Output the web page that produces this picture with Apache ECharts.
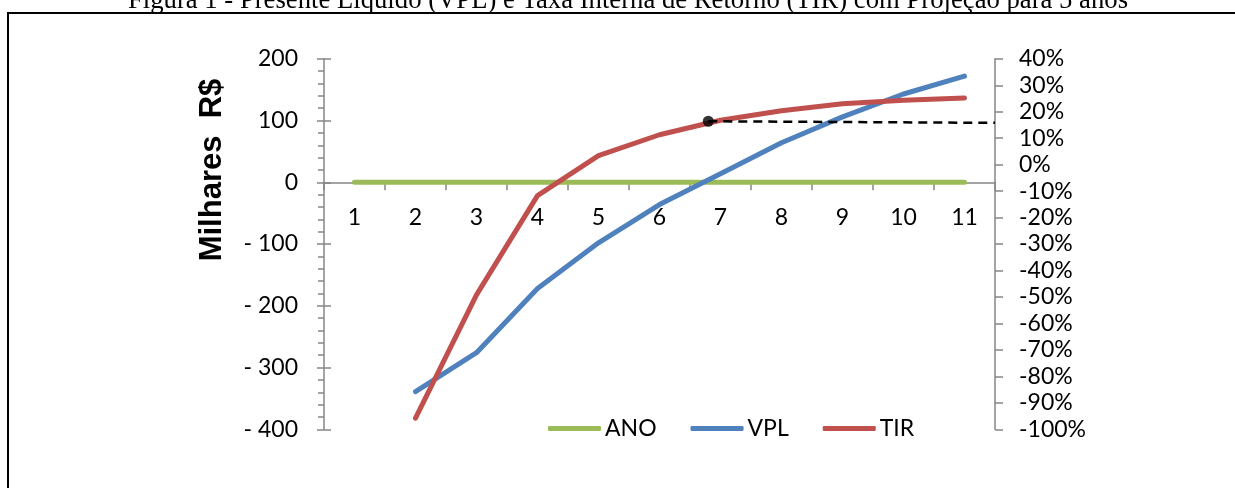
<!DOCTYPE html>
<html>
<head>
<meta charset="utf-8">
<script src="https://cdn.jsdelivr.net/npm/echarts@6/dist/echarts.min.js"></script>
<style>
html,body{margin:0;padding:0;background:#fff;}
#chart{width:1235px;height:488px;}
</style>
</head>
<body>
<div id="chart"></div>
<script>
// ---- data ----
const categories = ['1','2','3','4','5','6','7','8','9','10','11'];
const anoValues = [0,0,0,0,0,0,0,0,0,0,0];
const vplValues = [null,-339,-276,-172,-98,-36,14,64,106,143,172];          // Milhares R$
const tirValues = [null,-95.8,-49.2,-11.7,3.4,11.3,16.8,20.4,23.0,24.3,25.2]; // %
const tirPoint = [[6.8,16.4]];                 // highlighted point (year position, %)
const tirDashed = [[6.8,16.4],[11.5,15.8]];    // dashed reference line
const leftAxisRange = [-400,200,100];
const rightAxisRange = [-100,40,10];
const titleText = 'Figura 1 - Presente Líquido (VPL) e Taxa Interna de Retorno (TIR) com Projeção para 5 anos';
const yAxisTitle = 'Milhares  R$';

const labelFont = 'Lato';
const labelSize = 23;
const axisGray = '#868686';

const chart = echarts.init(document.getElementById('chart'));
chart.setOption({
  animation:false,
  backgroundColor:'#fff',
  grid:{left:324,right:240,top:58.8,bottom:58.7,containLabel:false},
  graphic:[
    {type:'rect',shape:{x:8,y:13,width:1400,height:700},style:{fill:'none',stroke:'#000',lineWidth:2},z:-1},
    {type:'text',x:628,y:1,style:{text:titleText,font:'26.7px "Liberation Serif"',fill:'#000',textAlign:'center',textVerticalAlign:'middle'}},
    {type:'text',x:212,y:170,rotation:Math.PI/2,style:{text:yAxisTitle,font:'bold 31px "Liberation Sans"',fill:'#000',textAlign:'center',textVerticalAlign:'middle'}}
  ],
  legend:{
    data:['ANO','VPL','TIR'],
    left:543, top:412,
    icon:'roundRect', itemWidth:53, itemHeight:5, itemGap:34,
    textStyle:{fontFamily:labelFont,fontSize:labelSize,color:'#000',padding:[0,0,0,-1]}
  },
  xAxis:[
    {type:'category',data:categories,boundaryGap:true,offset:0,
     axisLine:{onZero:false,lineStyle:{color:axisGray,width:1.5}},
     axisTick:{show:true,length:8,lineStyle:{color:axisGray,width:1.5}},
     axisLabel:{margin:24,fontFamily:labelFont,fontSize:labelSize,color:'#000'},
     splitLine:{show:false}},
    {type:'value',min:0.5,max:11.5,show:false}
  ],
  yAxis:[
    {type:'value',position:'left',min:leftAxisRange[0],max:leftAxisRange[1],interval:leftAxisRange[2],
     axisLine:{show:true,onZero:false,lineStyle:{color:axisGray,width:1.5}},
     axisTick:{show:true,length:7,lineStyle:{color:axisGray,width:1.5}},
     minorTick:{show:true,splitNumber:5,length:6,lineStyle:{color:axisGray,width:1.5}},
     axisLabel:{margin:26,fontFamily:labelFont,fontSize:labelSize,color:'#000',
       formatter:v=>v<0?'- '+Math.abs(v):String(v)},
     splitLine:{show:false}},
    {type:'value',position:'right',min:rightAxisRange[0],max:rightAxisRange[1],interval:rightAxisRange[2],
     axisLine:{show:true,onZero:false,lineStyle:{color:axisGray,width:1.5}},
     axisTick:{show:true,length:8,lineStyle:{color:axisGray,width:1.5}},
     axisLabel:{margin:24,fontFamily:labelFont,fontSize:labelSize,color:'#000',formatter:v=>v+'%'},
     splitLine:{show:false}},
    {type:'value',position:'left',min:leftAxisRange[0],max:leftAxisRange[1],interval:leftAxisRange[2],
     axisLine:{show:false,onZero:false},axisLabel:{show:false},splitLine:{show:false},
     axisTick:{show:true,inside:true,length:7,lineStyle:{color:axisGray,width:1.5}}}
  ],
  series:[
    {name:'ANO',type:'line',data:anoValues,yAxisIndex:0,symbol:'none',
     lineStyle:{color:'#9BBB59',width:5,cap:'round'},itemStyle:{color:'#9BBB59'},z:2},
    {name:'VPL',type:'line',data:vplValues,yAxisIndex:0,symbol:'none',
     lineStyle:{color:'#4F81BD',width:5,cap:'round'},itemStyle:{color:'#4F81BD'},z:3},
    {name:'TIR',type:'line',data:tirValues,yAxisIndex:1,symbol:'none',
     lineStyle:{color:'#C0504D',width:5,cap:'round'},itemStyle:{color:'#C0504D'},z:4},
    {name:'ref',type:'line',data:tirDashed,xAxisIndex:1,yAxisIndex:1,symbol:'none',
     lineStyle:{color:'#000',width:2.5,type:[9,6]},z:5},
    {name:'pt',type:'scatter',data:tirPoint,xAxisIndex:1,yAxisIndex:1,symbolSize:11,
     itemStyle:{color:'#000'},z:6}
  ]
});
// place the category axis on the zero of the left value axis (via the library's own scale)
const zeroPx = chart.convertToPixel({yAxisIndex:0}, 0);
const bottomPx = chart.convertToPixel({yAxisIndex:0}, leftAxisRange[0]);
chart.setOption({xAxis:[{offset: zeroPx - bottomPx}]});
</script>
</body>
</html>
